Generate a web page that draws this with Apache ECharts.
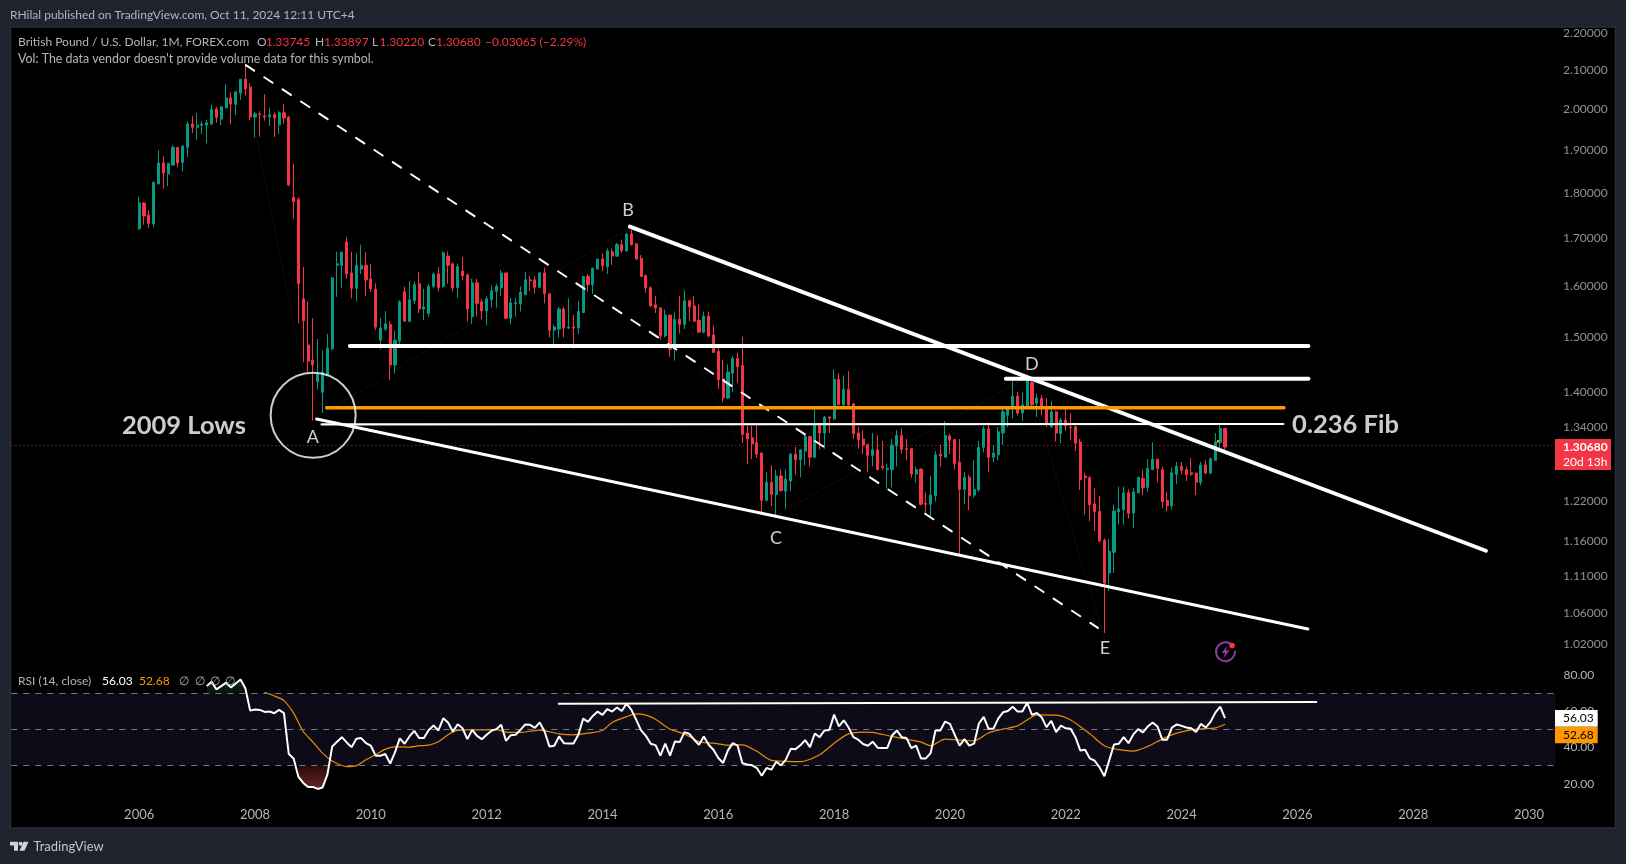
<!DOCTYPE html>
<html>
<head>
<meta charset="utf-8">
<style>html,body{margin:0;padding:0;background:#1e232e}#c{width:1626px;height:864px}</style>
<script src="https://cdn.jsdelivr.net/npm/echarts@6/dist/echarts.min.js"></script>
</head>
<body>
<div id="c"></div>
<script>
// ---------- Monthly OHLC, Jan 2006 .. Oct 2024 ----------
const opens = [
1.720,1.777,1.750,1.731,1.820,1.869,1.843,1.864,1.906,1.870,1.906,1.963,
1.955,1.960,1.960,1.963,2.000,1.975,2.003,2.028,2.012,2.041,2.077,2.056,
1.980,1.988,1.983,1.981,1.986,1.961,1.991,1.980,1.790,1.785,1.575,1.486,
1.458,1.419,1.400,1.431,1.479,1.643,1.643,1.692,1.627,1.596,1.635,1.643,
1.615,1.594,1.495,1.516,1.525,1.449,1.493,1.589,1.531,1.571,1.605,1.555,
1.546,1.600,1.625,1.600,1.662,1.646,1.597,1.631,1.623,1.540,1.607,1.569,
1.551,1.573,1.590,1.597,1.627,1.537,1.565,1.565,1.583,1.613,1.613,1.598,
1.627,1.585,1.514,1.516,1.555,1.518,1.520,1.518,1.548,1.620,1.603,1.635,
1.656,1.640,1.671,1.662,1.686,1.673,1.709,1.688,1.657,1.622,1.597,1.563,
1.557,1.503,1.543,1.478,1.535,1.525,1.571,1.561,1.533,1.510,1.541,1.505,
1.474,1.424,1.390,1.434,1.461,1.448,1.330,1.322,1.314,1.297,1.222,1.250,
1.231,1.260,1.236,1.252,1.295,1.286,1.300,1.324,1.290,1.345,1.330,1.357,
1.354,1.423,1.378,1.405,1.380,1.330,1.320,1.311,1.293,1.302,1.275,1.270,
1.270,1.309,1.326,1.304,1.304,1.263,1.271,1.217,1.216,1.229,1.295,1.290,
1.325,1.319,1.282,1.239,1.258,1.230,1.238,1.306,1.337,1.290,1.294,1.330,
1.360,1.373,1.393,1.364,1.376,1.418,1.381,1.389,1.374,1.340,1.366,1.329,
1.352,1.340,1.341,1.315,1.260,1.257,1.2164,1.205,1.162,1.115,1.1445,1.2045,
1.2075,1.2335,1.2025,1.2335,1.256,1.242,1.270,1.287,1.270,1.2215,1.2135,1.2625,
1.2755,1.270,1.265,1.2645,1.250,1.2775,1.2645,1.285,1.3145,1.33745];
const closes = [
1.777,1.748,1.732,1.824,1.869,1.845,1.868,1.906,1.869,1.909,1.963,1.955,
1.960,1.963,1.966,2.000,1.979,2.006,2.028,2.013,2.044,2.077,2.052,1.980,
1.988,1.986,1.980,1.986,1.978,1.991,1.978,1.818,1.780,1.605,1.532,1.456,
1.449,1.432,1.436,1.480,1.617,1.646,1.670,1.625,1.596,1.643,1.643,1.613,
1.595,1.520,1.518,1.526,1.449,1.495,1.569,1.531,1.573,1.603,1.555,1.559,
1.600,1.625,1.597,1.669,1.643,1.597,1.640,1.621,1.555,1.607,1.566,1.551,
1.575,1.591,1.600,1.627,1.537,1.567,1.567,1.588,1.613,1.611,1.598,1.627,
1.585,1.514,1.520,1.555,1.518,1.520,1.518,1.550,1.620,1.603,1.637,1.656,
1.642,1.673,1.662,1.686,1.673,1.709,1.686,1.656,1.620,1.597,1.561,1.557,
1.503,1.543,1.478,1.535,1.525,1.571,1.559,1.531,1.510,1.541,1.503,1.472,
1.422,1.390,1.436,1.461,1.446,1.328,1.320,1.312,1.295,1.222,1.250,1.231,
1.260,1.237,1.255,1.295,1.286,1.302,1.324,1.290,1.345,1.330,1.357,1.355,
1.423,1.378,1.405,1.378,1.329,1.319,1.310,1.293,1.302,1.270,1.273,1.272,
1.310,1.326,1.303,1.303,1.263,1.270,1.216,1.216,1.230,1.294,1.292,1.326,
1.318,1.280,1.239,1.258,1.229,1.239,1.306,1.337,1.290,1.297,1.332,1.366,
1.372,1.393,1.364,1.378,1.421,1.378,1.390,1.374,1.347,1.366,1.330,1.352,
1.342,1.339,1.313,1.254,1.257,1.215,1.2045,1.161,1.101,1.146,1.2056,1.2088,
1.2335,1.202,1.235,1.258,1.2415,1.272,1.287,1.272,1.220,1.2135,1.265,1.2755,
1.269,1.262,1.2625,1.250,1.2775,1.2645,1.2875,1.3155,1.3375,1.3068];
const highs = [
1.791,1.779,1.761,1.826,1.899,1.885,1.868,1.911,1.905,1.911,1.969,1.983,
1.991,1.970,1.973,2.011,2.006,2.006,2.064,2.043,2.045,2.077,2.116,2.066,
1.993,1.995,2.038,2.004,1.991,1.996,2.013,1.983,1.867,1.790,1.639,1.570,
1.537,1.497,1.476,1.507,1.618,1.671,1.672,1.702,1.671,1.667,1.686,1.670,
1.646,1.606,1.537,1.551,1.531,1.513,1.572,1.599,1.611,1.610,1.629,1.595,
1.605,1.628,1.639,1.672,1.672,1.649,1.646,1.660,1.626,1.615,1.615,1.575,
1.580,1.602,1.605,1.633,1.628,1.577,1.577,1.600,1.629,1.621,1.620,1.629,
1.638,1.587,1.525,1.559,1.559,1.576,1.543,1.571,1.620,1.625,1.638,1.656,
1.668,1.678,1.678,1.690,1.697,1.711,1.7177,1.688,1.664,1.624,1.600,1.580,
1.558,1.554,1.543,1.550,1.581,1.592,1.573,1.581,1.564,1.550,1.550,1.523,
1.482,1.459,1.450,1.466,1.472,1.5018,1.342,1.342,1.344,1.297,1.266,1.277,
1.270,1.270,1.270,1.297,1.307,1.303,1.330,1.326,1.372,1.345,1.359,1.358,
1.441,1.434,1.430,1.4376,1.380,1.340,1.335,1.311,1.330,1.326,1.317,1.280,
1.320,1.335,1.338,1.320,1.305,1.275,1.272,1.234,1.260,1.300,1.310,1.350,
1.3285,1.320,1.320,1.266,1.262,1.285,1.317,1.342,1.348,1.310,1.340,1.376,
1.375,1.4237,1.400,1.400,1.4233,1.420,1.398,1.395,1.390,1.385,1.368,1.356,
1.375,1.364,1.340,1.320,1.265,1.260,1.241,1.2285,1.165,1.164,1.2155,1.243,
1.243,1.239,1.241,1.258,1.270,1.287,1.3142,1.287,1.275,1.235,1.274,1.2825,
1.2825,1.2755,1.2885,1.265,1.2825,1.2855,1.2895,1.330,1.3435,1.33897];
const lows = [
1.718,1.729,1.722,1.723,1.820,1.809,1.815,1.862,1.860,1.849,1.883,1.941,
1.924,1.938,1.916,1.960,1.966,1.960,2.003,1.963,1.985,2.023,2.034,1.973,
1.930,1.932,1.971,1.958,1.931,1.938,1.963,1.815,1.743,1.527,1.454,1.435,
1.351,1.405,1.364,1.430,1.476,1.579,1.596,1.615,1.576,1.570,1.625,1.581,
1.589,1.514,1.478,1.512,1.422,1.433,1.486,1.531,1.529,1.565,1.547,1.533,
1.539,1.596,1.590,1.597,1.605,1.590,1.577,1.612,1.531,1.526,1.540,1.535,
1.523,1.558,1.558,1.581,1.535,1.525,1.540,1.550,1.583,1.590,1.585,1.596,
1.566,1.500,1.484,1.500,1.500,1.516,1.479,1.507,1.547,1.590,1.585,1.635,
1.630,1.625,1.644,1.660,1.669,1.671,1.684,1.654,1.620,1.587,1.559,1.547,
1.496,1.500,1.464,1.457,1.508,1.516,1.531,1.531,1.510,1.508,1.500,1.472,
1.406,1.383,1.388,1.400,1.417,1.314,1.279,1.287,1.289,1.200,1.220,1.213,
1.197,1.235,1.209,1.236,1.262,1.258,1.277,1.275,1.289,1.303,1.304,1.330,
1.352,1.378,1.375,1.375,1.320,1.304,1.295,1.266,1.275,1.269,1.270,1.240,
1.242,1.275,1.296,1.285,1.257,1.250,1.214,1.200,1.196,1.220,1.275,1.290,
1.295,1.270,1.1405,1.216,1.207,1.226,1.235,1.298,1.266,1.282,1.285,1.310,
1.340,1.355,1.360,1.350,1.376,1.373,1.357,1.360,1.340,1.340,1.316,1.313,
1.334,1.318,1.300,1.238,1.200,1.190,1.1755,1.159,1.034,1.090,1.115,1.185,
1.185,1.194,1.180,1.2335,1.230,1.235,1.270,1.250,1.210,1.205,1.208,1.247,
1.2625,1.252,1.260,1.230,1.245,1.2625,1.2625,1.285,1.300,1.3022];

// RSI(14), first value is Mar 2007 (month 14 after Jan 2006)
const rsiFirstMonth = 14;
const rsiValues = [
73.7,76.1,71.9,73.7,75.6,73.0,75.2,77.4,72.5,60.2,
60.8,60.6,59.5,59.7,58.8,60.6,58.8,36.3,33.9,23.7,20.4,18.2,
18.2,17.1,17.9,25.0,40.5,43.1,45.6,42.7,40.1,44.7,45.1,42.3,
40.9,35.4,35.4,36.3,31.0,37.2,44.9,42.0,46.0,49.1,45.1,45.1,
49.6,52.0,49.3,56.0,53.7,48.7,52.7,50.5,44.5,49.6,46.3,44.5,
46.9,49.1,50.0,52.4,43.6,46.7,46.9,49.6,52.6,52.4,50.7,53.7,
48.7,40.5,40.9,46.0,42.3,42.1,42.1,46.9,55.8,54.0,57.3,59.7,
57.9,61.1,59.7,61.9,60.0,64.1,60.6,55.1,49.3,46.3,42.0,41.2,
35.4,42.0,35.4,43.2,42.9,48.4,47.4,44.2,41.4,46.0,41.4,38.7,
34.1,31.4,38.3,42.3,40.9,31.2,30.5,30.1,28.6,24.4,28.6,27.7,
32.1,30.1,33.2,39.2,39.0,41.1,44.0,40.1,47.6,45.6,49.3,49.5,
58.0,51.5,54.9,50.9,45.6,44.2,41.8,40.9,43.1,39.8,39.6,39.6,
46.5,49.3,45.6,45.1,39.6,40.9,33.9,33.9,36.8,49.3,49.3,54.2,
52.9,46.9,40.9,44.5,40.9,42.0,53.1,56.8,50.2,50.2,55.8,59.3,
60.0,62.4,59.7,59.7,64.6,57.9,58.9,56.6,51.1,54.6,48.4,52.0,
50.5,50.2,45.6,38.3,38.7,33.9,32.6,29.0,24.1,32.8,41.6,42.0,
45.6,42.3,47.1,50.0,48.2,51.5,53.7,51.5,44.2,44.2,50.9,52.6,
51.8,50.9,50.5,48.4,52.9,50.9,54.0,59.1,62.4,56.03];

// RSI moving average, read at these months after Jan 2006
const maMonths = [26,28,30,32,34,36,38,40,43,45,47,49,51,53,56,58,60,62,64,66,68,71,74,76,79,83,87,90,93,96,98,101,103,105,107,110,113,116,119,122,125,128,131,134,137,141,144,147,150,152,156,159,162,164,167,170,173,176,179,182,184,186,190,193,197,200,203,206,209,212,215,219,223,225];
const maValues = [70.3,68.3,65.7,58.8,48.7,42.9,36.8,32.5,29.4,29.9,33.2,35.9,39.0,40.3,40.1,40.9,41.2,43.1,46.9,49.3,49.6,49.6,49.8,48.4,48.2,49.5,47.4,46.9,47.8,49.3,53.7,56.9,58.4,57.7,55.5,50.0,47.4,43.1,42.3,41.2,41.4,37.8,32.8,32.3,32.1,35.9,42.3,47.4,48.4,48.2,46.0,44.5,42.9,40.9,44.5,44.0,43.6,48.0,50.0,51.8,55.1,57.9,57.7,55.1,47.4,40.9,38.7,37.9,40.5,44.5,47.8,50.0,50.7,52.68];

// Axis ticks
const priceTicks = [2.20,2.10,2.00,1.90,1.80,1.70,1.60,1.50,1.40,1.34,1.22,1.16,1.11,1.06,1.02];
const rsiTicks = [20,40,60,80];
const rsiLevels = [70,50,30];
const lastPrice = 1.3068;

// Drawn annotations as [decimal year, price]
const dashedLine = [[2007.842,2.114],[2022.555,1.0405]];
const upperTrend = [[2014.473,1.7248],[2029.255,1.1467]];
const lowerTrend = [[2009.063,1.3537],[2026.18,1.039]];
const topLevel = [[2009.638,1.484],[2026.19,1.484]];
const peakLevel = [[2020.966,1.4242],[2026.19,1.4242]];
const orangeLevel = [[2009.236,1.3731],[2025.767,1.3731]];
const fibLevel = [[2009.15,1.3444],[2025.757,1.3452]];
const zigzag = [[2008.027,1.932],[2009.0,1.352],[2014.44,1.72],[2016.99,1.1995],[2021.33,1.4254],[2022.67,1.0247]];
const rsiResistance = [[2013.23,64.06],[2026.34,65.0]];
const lowsCircle = [[2009.004,1.36]];
const waveLabels = [['A',2009.0,1.3225],['B',2014.44,1.760],['C',2016.995,1.1645],['D',2021.415,1.45],['E',2022.676,1.014]];
const bigLabels = [['2009 Lows',2006.772,1.343],['0.236 Fib',2026.83,1.3445]];

// ---------- Category axis ----------
const BANDS = 320, START_OFFSET = 26;
const categories = [];
for (let k = 0; k < BANDS; k++) {
  const m = k - START_OFFSET + 2006 * 12;
  categories.push(Math.floor(m / 12) + '-' + String(m % 12 + 1).padStart(2, '0'));
}
const yearMin = 2006 - (START_OFFSET + 0.5) / 12;
const yearMax = yearMin + BANDS / 12;

const candleData = categories.map((c, k) => {
  const j = k - START_OFFSET;
  return j >= 0 && j < opens.length ? [opens[j], closes[j], lows[j], highs[j]] : ['-', '-', '-', '-'];
});
const rsiAt = k => {
  const j = k - START_OFFSET - rsiFirstMonth;
  return j >= 0 && j < rsiValues.length ? rsiValues[j] : null;
};
const rsiLine = categories.map((c, k) => rsiAt(k));
const inMonths = (k, a, b) => { const m = k - START_OFFSET; return m >= a && m <= b; };
const maData = maMonths.map((m, n) => [m + START_OFFSET, maValues[n]]);

const TXT = '#b2b5be', FONT = 'Lato', UP = '#089981', DOWN = '#f23645', ORANGE = '#ff9800';
const L = 11.3, W = 1544.3;

const trend = (data, color, width, dash, z) => ({
  type: 'line', xAxisIndex: 1, yAxisIndex: 0, data, symbol: 'none', silent: true, z: z || 6,
  lineStyle: { color, width, type: dash || 'solid', cap: 'round' }
});

const text = (x, y, t, fill, font, align) => ({
  type: 'text', z: 100, silent: true,
  style: { x, y, text: t, fill, font: font || ('12px ' + FONT), verticalAlign: 'middle', align: align || 'left' }
});
const rect = (x, y, width, height, fill, stroke) => ({
  type: 'rect', z: -5, silent: true, shape: { x, y, width, height },
  style: { fill, stroke: stroke || null, lineWidth: stroke ? 1.5 : 0 }
});
const onTop = (o) => Object.assign(o, { z: 100 });

const graphics = [
  rect(10.5, 27, 1605, 801, '#000000', '#2a2e39'),
  text(10, 15, 'RHilal published on TradingView.com, Oct 11, 2024 12:11 UTC+4', TXT),
  text(18, 41.7, 'British Pound / U.S. Dollar, 1M, FOREX.com', TXT),
  text(257, 41.7, 'O', TXT), text(265.7, 41.7, '1.33745', DOWN),
  text(315, 41.7, 'H', TXT), text(324, 41.7, '1.33897', DOWN),
  text(372, 41.7, 'L', TXT), text(379.5, 41.7, '1.30220', DOWN),
  text(428, 41.7, 'C', TXT), text(436, 41.7, '1.30680', DOWN),
  text(485, 41.7, '\u22120.03065 (\u22122.29%)', DOWN),
  text(18, 58.7, "Vol: The data vendor doesn't provide volume data for this symbol.", TXT, '12.4px ' + FONT),
  text(18, 680.7, 'RSI (14, close)', TXT),
  text(102, 680.7, '56.03', '#ffffff'),
  text(139, 680.7, '52.68', ORANGE),
  text(179, 680.7, '\u2205', TXT), text(195, 680.7, '\u2205', TXT),
  text(210, 680.7, '\u2205', TXT), text(225, 680.7, '\u2205', TXT),
  onTop(rect(1555, 439, 56, 31, DOWN)),
  text(1563, 447.5, '1.30680', '#ffffff', 'bold 12px ' + FONT),
  text(1563, 461.7, '20d 13h', '#ffffff'),
  onTop(rect(1555, 710, 42.7, 16.7, '#ffffff')),
  onTop(rect(1555, 726.7, 42.7, 16.6, ORANGE)),
  text(1563, 718.5, '56.03', '#000000'),
  text(1563, 735, '52.68', '#000000'),
  { type: 'rect', z: 2, silent: true, shape: { x: 1217, y: 440, width: 5, height: 2.5 }, style: { fill: ORANGE } },
  onTop({ type: 'arc', silent: true, shape: { cx: 1225.5, cy: 651.7, r: 9.5, startAngle: -0.1, endAngle: 5.6, clockwise: true }, style: { stroke: '#8e3aa8', fill: null, lineWidth: 2 } }),
  onTop({ type: 'polygon', silent: true, shape: { points: [[1227,646],[1221.5,653],[1225,653],[1223.5,658],[1229.5,650.5],[1226,650.5]] }, style: { fill: '#8e3aa8' } }),
  onTop({ type: 'circle', silent: true, shape: { cx: 1232, cy: 645.5, r: 2.8 }, style: { fill: DOWN } }),
  onTop({ type: 'polygon', silent: true, shape: { points: [[10,841.7],[18,841.7],[18,850.7],[14,850.7],[14,845.5],[10,845.5]] }, style: { fill: '#d1d4dc' } }),
  onTop({ type: 'polygon', silent: true, shape: { points: [[23.5,841.7],[28.5,841.7],[24.5,850.7],[19.5,850.7]] }, style: { fill: '#d1d4dc' } }),
  onTop({ type: 'circle', silent: true, shape: { cx: 20.6, cy: 843.7, r: 2 }, style: { fill: '#d1d4dc' } }),
  text(33.5, 847, 'TradingView', '#c3c6ce', '13px ' + FONT)
];

const option = {
  backgroundColor: '#1e232e',
  animation: false,
  grid: [
    { left: L, top: 27, width: W, height: 638, containLabel: false },
    { left: L, top: 665.5, width: W, height: 132.5, containLabel: false }
  ],
  xAxis: [
    { type: 'category', gridIndex: 0, data: categories, show: false, boundaryGap: true },
    { type: 'value', gridIndex: 0, min: yearMin, max: yearMax, show: false },
    { type: 'category', gridIndex: 1, data: categories, boundaryGap: true,
      axisLine: { show: false }, axisTick: { show: false }, splitLine: { show: false },
      axisLabel: { color: TXT, fontFamily: FONT, fontSize: 13, margin: 10, hideOverlap: false,
        interval: (i, v) => v.endsWith('-01') && Number(v.slice(0, 4)) % 2 === 0 && Number(v.slice(0, 4)) >= 2006,
        formatter: v => v.slice(0, 4) } },
    { type: 'value', gridIndex: 1, min: yearMin, max: yearMax, show: false }
  ],
  yAxis: [
    { type: 'log', logBase: 10, gridIndex: 0, min: 0.993, max: 2.218, position: 'right',
      axisLine: { show: false }, axisTick: { show: false }, axisLabel: { show: false }, splitLine: { show: false } },
    { type: 'value', gridIndex: 1, min: 12.1, max: 85.06, position: 'right',
      axisLine: { show: false }, axisTick: { show: false }, splitLine: { show: false },
      axisLabel: { color: TXT, fontFamily: FONT, fontSize: 12, margin: 8, customValues: rsiTicks, formatter: v => v.toFixed(2) } }
  ],
  series: [
    { type: 'candlestick', xAxisIndex: 0, yAxisIndex: 0, data: candleData, barWidth: 2.6, z: 3, silent: true,
      itemStyle: { color: UP, color0: DOWN, borderColor: UP, borderColor0: DOWN, borderWidth: 1 },
      markLine: { silent: true, symbol: 'none', label: { show: false }, animation: false,
        lineStyle: { color: DOWN, type: [1, 3], width: 1, opacity: 0.8 }, data: [{ yAxis: lastPrice }] } },
    trend(zigzag, '#0e0e0e', 1, 'solid', 2),
    trend(dashedLine, '#ffffff', 2, [10, 12]),
    trend(upperTrend, '#ffffff', 4),
    trend(lowerTrend, '#ffffff', 3),
    trend(topLevel, '#ffffff', 4),
    trend(peakLevel, '#ffffff', 4),
    trend(orangeLevel, ORANGE, 3.5),
    trend(fibLevel, '#ffffff', 2.2),
    { type: 'scatter', xAxisIndex: 1, yAxisIndex: 0, data: lowsCircle, symbol: 'circle', symbolSize: 85, silent: true, z: 7, clip: false,
      itemStyle: { color: 'rgba(0,0,0,0)', borderColor: '#ffffff', borderWidth: 2 } },
    { type: 'scatter', xAxisIndex: 1, yAxisIndex: 0, symbolSize: 1, silent: true, z: 8, clip: false,
      data: waveLabels.map(d => ({ name: d[0], value: [d[1], d[2]] })),
      itemStyle: { color: 'rgba(0,0,0,0)' },
      label: { show: true, position: 'inside', formatter: '{b}', color: '#ffffff', fontFamily: FONT, fontSize: 18 } },
    { type: 'scatter', xAxisIndex: 1, yAxisIndex: 0, symbolSize: 1, silent: true, z: 8, clip: false,
      data: bigLabels.map(d => ({ name: d[0], value: [d[1], d[2]] })),
      itemStyle: { color: 'rgba(0,0,0,0)' },
      label: { show: true, position: 'inside', formatter: '{b}', color: '#ffffff', fontFamily: FONT, fontWeight: 'bold', fontSize: 25.5 } },
    { type: 'scatter', xAxisIndex: 1, yAxisIndex: 0, symbolSize: 1, silent: true, z: 8, clip: false,
      data: priceTicks.map(p => [yearMax, p]),
      itemStyle: { color: 'rgba(0,0,0,0)' },
      label: { show: true, position: 'right', distance: 7, color: TXT, fontFamily: FONT, fontSize: 12,
        formatter: p => p.value[1].toFixed(5) } },
    // RSI pane
    { type: 'line', name: 'RSI', xAxisIndex: 2, yAxisIndex: 1, data: rsiLine, symbol: 'none', silent: true, z: 5,
      lineStyle: { color: '#ffffff', width: 2 },
      markArea: { silent: true, itemStyle: { color: '#0d0b18' }, z: 1, data: [[{ yAxis: 70 }, { yAxis: 30 }]] },
      markLine: { silent: true, symbol: 'none', label: { show: false },
        lineStyle: { color: '#787b86', type: [6, 6], width: 1 }, data: rsiLevels.map(v => ({ yAxis: v })) } },
    { type: 'line', name: 'RSI MA', xAxisIndex: 2, yAxisIndex: 1, data: maData, symbol: 'none', silent: true, z: 4, smooth: 0.25,
      lineStyle: { color: '#e98c00', width: 1.2 } },
    { type: 'line', stack: 'os', xAxisIndex: 2, yAxisIndex: 1, symbol: 'none', silent: true, z: 3, lineStyle: { width: 0 },
      data: categories.map((c, k) => inMonths(k, 33, 39) ? rsiAt(k) : null) },
    { type: 'line', stack: 'os', xAxisIndex: 2, yAxisIndex: 1, symbol: 'none', silent: true, z: 3, lineStyle: { width: 0 },
      areaStyle: { opacity: 1, color: { type: 'linear', x: 0, y: 0, x2: 0, y2: 1, colorStops: [{ offset: 0, color: '#2a0b0b' }, { offset: 1, color: '#662525' }] } },
      data: categories.map((c, k) => inMonths(k, 33, 39) ? 30 - rsiAt(k) : null) },
    { type: 'line', stack: 'ob', xAxisIndex: 2, yAxisIndex: 1, symbol: 'none', silent: true, z: 3, lineStyle: { width: 0 },
      data: categories.map((c, k) => inMonths(k, 14, 22) ? 70 : null) },
    { type: 'line', stack: 'ob', xAxisIndex: 2, yAxisIndex: 1, symbol: 'none', silent: true, z: 3, lineStyle: { width: 0 },
      areaStyle: { opacity: 1, color: { type: 'linear', x: 0, y: 0, x2: 0, y2: 1, colorStops: [{ offset: 0, color: '#0c2a1a' }, { offset: 1, color: '#06140d' }] } },
      data: categories.map((c, k) => inMonths(k, 14, 22) ? rsiAt(k) - 70 : null) },
    { type: 'line', xAxisIndex: 3, yAxisIndex: 1, data: rsiResistance, symbol: 'none', silent: true, z: 6,
      lineStyle: { color: '#ffffff', width: 2 } }
  ],
  graphic: { elements: graphics }
};

const chart = echarts.init(document.getElementById('c'), null, { renderer: 'canvas', width: 1626, height: 864 });
chart.setOption(option);
</script>
</body>
</html>
